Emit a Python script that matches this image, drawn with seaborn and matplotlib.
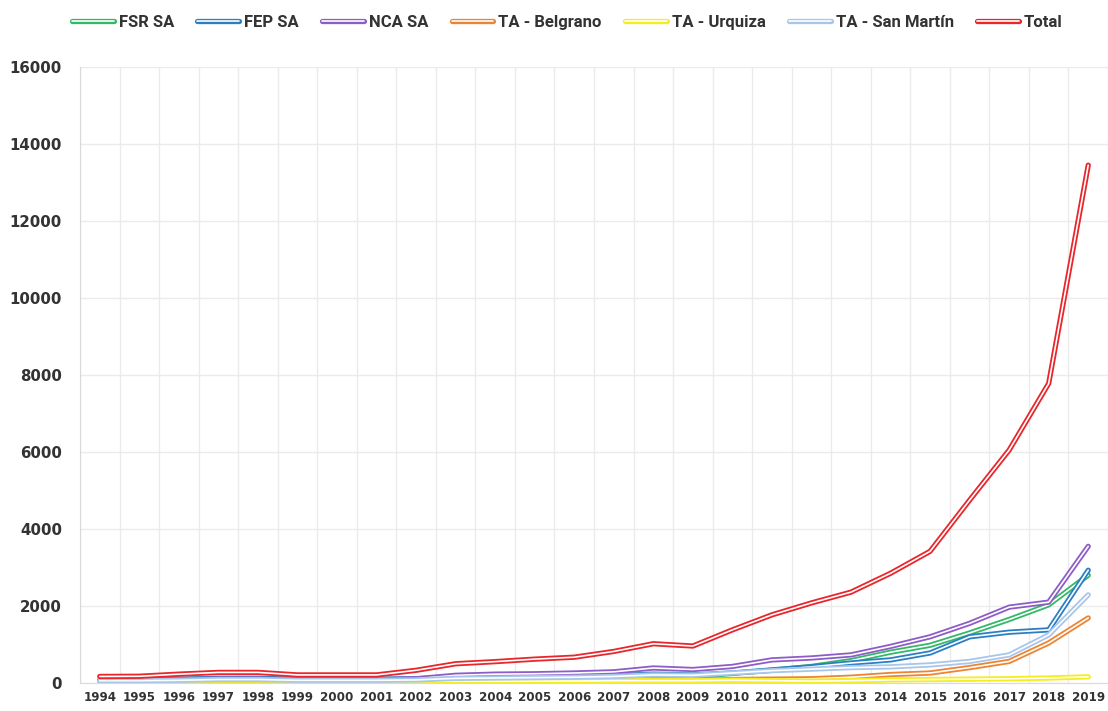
import numpy as np
import pandas as pd
import seaborn as sns
import matplotlib.pyplot as plt
import matplotlib.patheffects as pe

# Data
years = list(range(1994, 2020))
fsr_sa = [40, 40, 60, 80, 80, 60, 60, 60, 70, 90, 100, 110, 120, 140, 180, 160,
          250, 330, 430, 580, 800, 980, 1300, 1650, 2030, 2800]
fep_sa = [80, 80, 100, 120, 120, 100, 100, 100, 110, 150, 160, 170, 170, 190, 230, 210,
          260, 340, 420, 520, 600, 780, 1200, 1320, 1380, 2930]
nca_sa = [60, 60, 80, 100, 100, 80, 80, 80, 110, 200, 230, 240, 260, 290, 390, 350,
          430, 600, 650, 730, 950, 1200, 1550, 1970, 2100, 3550]
ta_belgrano = [40, 40, 40, 50, 50, 40, 40, 40, 40, 50, 50, 60, 60, 70, 80, 70,
               90, 100, 110, 150, 220, 260, 400, 560, 1040, 1690]
ta_urquiza = [30, 30, 40, 50, 50, 40, 40, 40, 40, 50, 50, 50, 50, 60, 60, 60,
              70, 60, 50, 60, 80, 90, 100, 110, 130, 160]
ta_san_martin = [60, 60, 70, 90, 90, 70, 70, 70, 80, 120, 130, 140, 150, 170, 210, 200,
                 260, 320, 360, 400, 420, 470, 560, 730, 1250, 2290]
total = [170, 175, 230, 275, 275, 210, 210, 210, 330, 500, 555, 620, 670, 820, 1020, 960,
         1380, 1770, 2080, 2360, 2850, 3420, 4750, 6050, 7780, 13450]

series_names = ['FSR SA', 'FEP SA', 'NCA SA', 'TA - Belgrano', 'TA - Urquiza',
                'TA - San Martín', 'Total']
series_values = [fsr_sa, fep_sa, nca_sa, ta_belgrano, ta_urquiza, ta_san_martin, total]
colors = ['#33b868', '#2a7fc4', '#8e5cc6', '#ec8432', '#f5ee1c', '#a8c6ea', '#e8262b']

rows = []
for name, vals in zip(series_names, series_values):
    for y, v in zip(years, vals):
        rows.append({'Year': y, 'Value': v, 'Series': name})
df = pd.DataFrame(rows)

sns.set_style('white')
plt.rcParams['font.family'] = ['DejaVu Sans']

fig = plt.figure(figsize=(11.08, 7.11), dpi=100)
ax = fig.add_axes([80 / 1108, 28 / 711, 1028 / 1108, 616 / 711])

sns.lineplot(data=df, x='Year', y='Value', hue='Series', hue_order=series_names,
             palette=dict(zip(series_names, colors)), linewidth=3.8, ax=ax, legend=False)

# Excel-style double line: white core over the coloured stroke
dbl = [pe.Normal(), pe.Stroke(linewidth=1.2, foreground='white')]
for line in ax.lines:
    line.set_path_effects(dbl)

ax.set_xlim(1993.5, 2019.5)
ax.set_ylim(0, 16000)
ax.set_xticks(years)
ax.set_xticks(np.arange(1993.5, 2020, 1), minor=True)
ax.set_yticks(np.arange(0, 16001, 2000))
ax.set_xlabel('')
ax.set_ylabel('')

ax.grid(axis='y', which='major', color='#ebebeb', linewidth=1)
ax.grid(axis='x', which='minor', color='#ebebeb', linewidth=1)
ax.tick_params(axis='both', which='both', length=0)
ax.tick_params(axis='y', pad=13, labelsize=10.8, labelcolor='#333333')
ax.tick_params(axis='x', pad=6, labelsize=8.6, labelcolor='#333333')
for lbl in ax.get_xticklabels() + ax.get_yticklabels():
    lbl.set_fontweight('bold')

for s in ['top', 'right']:
    ax.spines[s].set_visible(False)
for s in ['left', 'bottom']:
    ax.spines[s].set_color('#d9d9d9')

handles = [plt.Line2D([], [], color=c, linewidth=3.8, path_effects=dbl) for c in colors]
leg = fig.legend(handles, series_names, loc='center', bbox_to_anchor=(0.512, 0.968),
                 ncol=7, frameon=False, handlelength=2.5, handletextpad=0.3,
                 columnspacing=1.4, prop={'family': 'Roboto', 'weight': 'bold', 'size': 12})
for t in leg.get_texts():
    t.set_color('#333333')

fig.savefig('out.png', dpi=100)
